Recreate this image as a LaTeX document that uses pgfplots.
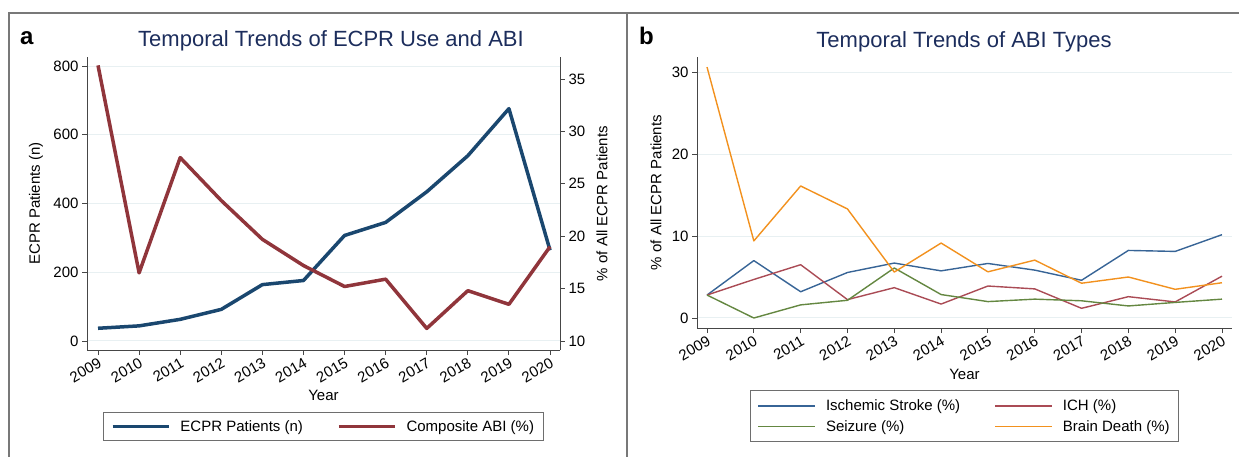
\documentclass[border=0pt]{standalone}
\usepackage{pgfplots}
\pgfplotsset{compat=1.18}
\usepackage{fontspec}
\setmainfont{Liberation Sans}
\definecolor{ecprblue}{RGB}{26,71,111}
\definecolor{abired}{RGB}{144,53,59}
\definecolor{isblue}{RGB}{55,100,150}
\definecolor{ichred}{RGB}{170,75,85}
\definecolor{szgreen}{RGB}{100,135,65}
\definecolor{bdorange}{RGB}{242,145,30}
\definecolor{gridcol}{RGB}{232,240,242}
\definecolor{axiscol}{RGB}{70,70,70}
\definecolor{legcol}{RGB}{110,110,110}
\definecolor{titlecol}{RGB}{28,45,92}
\definecolor{framecol}{RGB}{120,120,120}
\newcommand\tfs{\fontsize{15}{18}\selectfont}
\pgfplotsset{
  mystyle/.style={
    scale only axis,
    tick align=outside,
    major tick length=5pt,
    tick style={axiscol, line width=0.8pt},
    axis line style={axiscol, line width=0.9pt},
    tick label style={font=\tfs},
    label style={font=\tfs},
    /pgf/number format/assume math mode=true,
    /pgf/number format/1000 sep={},
    xtick={2009,...,2020},
    xticklabel style={rotate=30, anchor=north east, inner sep=1.5pt},
    major grid style={gridcol, line width=1pt},
  }
}
\begin{document}
\begin{tikzpicture}
\useasboundingbox (0pt,0pt) rectangle (1239pt,-457pt);
% panel frames
\draw[framecol, line width=1.3pt] (9pt,-457pt) -- (9pt,-13pt) -- (1239pt,-13pt);
\draw[framecol, line width=1.3pt] (627pt,-13pt) -- (627pt,-457pt);
% titles and letters
\node[font=\fontsize{22}{26}\selectfont, text=titlecol] at (331pt,-41pt) {Temporal Trends of ECPR Use and ABI};
\node[font=\fontsize{22}{26}\selectfont, text=titlecol] at (964pt,-42pt) {Temporal Trends of ABI Types};
\node[font=\fontsize{24}{28}\selectfont\bfseries, anchor=base west, inner sep=0pt] at (20pt,-45pt) {a};
\node[font=\fontsize{24}{28}\selectfont\bfseries, anchor=base west, inner sep=0pt] at (639pt,-45pt) {b};

% ---------- panel a, left axis
\begin{axis}[mystyle,
  width=473pt, height=293pt,
  at={(87pt,-350pt)}, anchor=south west,
  xmin=2008.732, xmax=2020.243,
  ymin=-26.2, ymax=826.2,
  axis x line*=bottom, axis y line*=left,
  ytick={0,200,...,800},
  ymajorgrids,
  xlabel={Year},
  xlabel style={at={(axis description cs:0.5,-0.154)}, anchor=center},
  ylabel={ECPR Patients (n)},
  ylabel style={at={(axis description cs:-0.108,0.5)}, anchor=center},
]
\addplot[ecprblue, line width=3.5pt, line join=round] coordinates {
(2009,37) (2010,44) (2011,63) (2012,92) (2013,164) (2014,176)
(2015,307) (2016,345) (2017,434) (2018,539) (2019,676) (2020,264)};
\end{axis}
% ---------- panel a, right axis
\begin{axis}[mystyle,
  width=473pt, height=293pt,
  at={(87pt,-350pt)}, anchor=south west,
  xmin=2008.732, xmax=2020.243,
  ymin=9.14, ymax=37.1,
  axis x line=none, axis y line*=right,
  ytick={10,15,...,35},
  ylabel={\% of All ECPR Patients},
  ylabel style={at={(axis description cs:1.089,0.5)}, anchor=center},
  legend columns=2,
  legend cell align=left,
  legend style={at={(axis description cs:0.5,-0.2116)}, anchor=north,
    draw=legcol, line width=1pt, font=\tfs,
    inner xsep=7pt, inner ysep=6pt,
    /tikz/every odd column/.append style={column sep=8pt},
    /tikz/every even column/.append style={column sep=32pt}},
  legend image code/.code={\draw[#1] (0pt,0pt) -- (56pt,0pt);},
]
\addlegendimage{ecprblue, line width=3.5pt}
\addlegendentry{ECPR Patients (n)}
\addplot[abired, line width=3.5pt, line join=round] coordinates {
(2009,36.3) (2010,16.5) (2011,27.5) (2012,23.4) (2013,19.7) (2014,17.2)
(2015,15.2) (2016,15.9) (2017,11.2) (2018,14.8) (2019,13.5) (2020,19.0)};
\addlegendentry{Composite ABI (\%)}
\end{axis}

% ---------- panel b
\begin{axis}[mystyle,
  width=535pt, height=271pt,
  at={(697pt,-328pt)}, anchor=south west,
  xmin=2008.786, xmax=2020.214,
  ymin=-1.22, ymax=31.83,
  axis x line*=bottom, axis y line*=left,
  ytick={0,10,20,30},
  ymajorgrids,
  xlabel={Year},
  xlabel style={at={(axis description cs:0.5,-0.173)}, anchor=center},
  ylabel={\% of All ECPR Patients},
  ylabel style={at={(axis description cs:-0.0766,0.5)}, anchor=center},
  legend columns=2,
  legend cell align=left,
  legend style={at={(axis description cs:0.5,-0.2288)}, anchor=north,
    draw=legcol, line width=1pt, font=\tfs,
    inner xsep=7pt, inner ysep=7pt, row sep=4.5pt,
    /tikz/every odd column/.append style={column sep=8pt},
    /tikz/every even column/.append style={column sep=32pt}},
  legend image code/.code={\draw[#1, line width=1.7pt] (0pt,0pt) -- (57pt,0pt);},
]
\addplot[color=isblue, line width=1.4pt, line join=round] coordinates {
(2009,2.8) (2010,7.0) (2011,3.2) (2012,5.55) (2013,6.7) (2014,5.75)
(2015,6.65) (2016,5.84) (2017,4.6) (2018,8.24) (2019,8.12) (2020,10.16)};
\addlegendentry{Ischemic Stroke (\%)}
\addplot[color=ichred, line width=1.4pt, line join=round] coordinates {
(2009,2.8) (2010,4.7) (2011,6.5) (2012,2.24) (2013,3.7) (2014,1.7)
(2015,3.9) (2016,3.55) (2017,1.18) (2018,2.6) (2019,1.96) (2020,5.1)};
\addlegendentry{ICH (\%)}
\addplot[color=szgreen, line width=1.4pt, line join=round] coordinates {
(2009,2.8) (2010,0.0) (2011,1.6) (2012,2.16) (2013,6.1) (2014,2.86)
(2015,2.0) (2016,2.3) (2017,2.1) (2018,1.47) (2019,1.9) (2020,2.3)};
\addlegendentry{Seizure (\%)}
\addplot[color=bdorange, line width=1.4pt, line join=round] coordinates {
(2009,30.6) (2010,9.4) (2011,16.1) (2012,13.3) (2013,5.6) (2014,9.14)
(2015,5.63) (2016,7.06) (2017,4.24) (2018,5.0) (2019,3.5) (2020,4.3)};
\addlegendentry{Brain Death (\%)}
\end{axis}
\end{tikzpicture}
\end{document}
